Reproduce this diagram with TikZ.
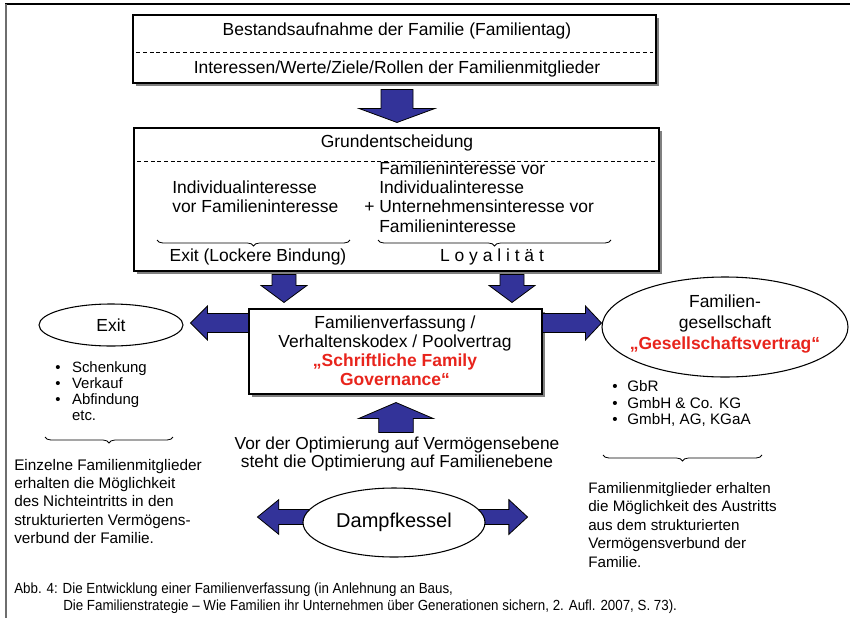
\documentclass[tikz,border=0pt]{standalone}
\usepackage{fontspec}
\setmainfont{Liberation Sans}
\newfontfamily\capfont[FakeStretch=0.91]{Liberation Sans}
\usetikzlibrary{calc,shadows,shapes.geometric,decorations.pathreplacing,backgrounds}
\definecolor{arrowblue}{RGB}{51,51,153}
\definecolor{govred}{RGB}{232,36,28}
\definecolor{shadowgray}{RGB}{128,128,128}
\definecolor{framegray}{RGB}{110,110,110}
\newcommand\pxu{0.75pt}
% block arrow: #1 start, #2 tip, #3 half shaft width, #4 half head width, #5 head length
\newcommand\blockarrow[5]{%
  \coordinate (ba-head) at ($(#2)!#5!(#1)$);
  \filldraw[blockarrow]
    ($(#1)!#3!90:(#2)$) -- ($(ba-head)!#3!90:(#2)$) -- ($(ba-head)!#4!90:(#2)$)
    -- (#2) -- ($(ba-head)!#4!-90:(#2)$) -- ($(ba-head)!#3!-90:(#2)$)
    -- ($(#1)!#3!-90:(#2)$) -- cycle;}
\begin{document}
\begin{tikzpicture}[x=0.75pt,y=-0.75pt,
  box/.style={draw=black, line width=0.8pt, fill=white, inner sep=0,
    drop shadow={shadow xshift=2.4pt, shadow yshift=-2.4pt, fill=shadowgray, opacity=1}},
  oval/.style={ellipse, draw=black, line width=0.8pt, fill=white, inner sep=0, align=center},
  maintext/.style={font=\fontsize{13.1}{14.6}\selectfont, align=center, inner sep=0},
  listtext/.style={font=\fontsize{11.2}{12}\selectfont, align=left, inner sep=0, anchor=west},
  paratext/.style={font=\fontsize{11.5}{13.8}\selectfont, align=left, inner sep=0, anchor=west},
  captext/.style={font=\capfont\fontsize{11}{12.75}\selectfont, align=left, inner sep=0, anchor=west},
  blockarrow/.style={fill=arrowblue, draw=black, line width=0.6pt, line join=miter},
  dashline/.style={line width=0.6pt, dash pattern=on 3pt off 2pt},
  ubrace/.style={decorate, decoration={brace, mirror, amplitude=4.5pt}, line width=0.6pt},
]
\useasboundingbox (0,0) rectangle (850,618);
% frame
\draw[black, line width=1.1pt] (5,4) -- (850,4);
\draw[framegray, line width=1.8pt] (6,4) -- (6,618);

% inventory of the family
\node[box, minimum width=523*\pxu, minimum height=68*\pxu] (famtag) at (394.5,49) {};
\node[maintext] (famtag-a) at (397,31) {Bestandsaufnahme der Familie (Familientag)};
\node[maintext] (famtag-b) at (397,69) {Interessen/Werte/Ziele/Rollen der Familienmitglieder};
\draw[dashline] ($(famtag.west)+(4,3)$) -- ($(famtag.east)+(-4,3)$);

% basic decision
\node[box, minimum width=525*\pxu, minimum height=143*\pxu] (grund) at (396.5,199.5) {};
\node[maintext] (grund-a) at (397,143) {Grundentscheidung};
\draw[dashline] ($(grund.west)+(4,-38.5)$) -- ($(grund.east)+(-4,-38.5)$);
\node[maintext, align=left, anchor=west] (grund-l) at (172,197)
  {Individualinteresse\\vor Familieninteresse};
\node[maintext, align=left, anchor=west] (grund-r) at (364,197)
  {\hphantom{+\ }Familieninteresse vor\\\hphantom{+\ }Individualinteresse\\+ Unternehmensinteresse vor\\\hphantom{+\ }Familieninteresse};
\draw[ubrace] (157,240) -- (350,240);
\draw[ubrace] (378,240) -- (611,240);
\node[maintext] (grund-exit) at (258,257) {Exit (Lockere Bindung)};
\node[maintext] (grund-loy) at (492,257) {L o y a l i t ä t};

% family constitution
\node[box, minimum width=293*\pxu, minimum height=85*\pxu] (verf) at (395.5,351.5) {};
\node[maintext, font=\fontsize{13.1}{14.25}\selectfont] (verf-t) at (395,351)
  {Familienverfassung /\\Verhaltenskodex / Poolvertrag\\
   {\color{govred}\bfseries „Schriftliche Family}\\{\color{govred}\bfseries Governance“}};

% exit
\node[oval, font=\fontsize{13.1}{14.6}\selectfont, minimum width=144*\pxu, minimum height=42*\pxu] (exit) at (111,325) {Exit};
\node[listtext] (exit-list) at (55,391)
  {\makebox[12.6pt][l]{•}Schenkung\\\makebox[12.6pt][l]{•}Verkauf\\\makebox[12.6pt][l]{•}Abfindung\\\makebox[12.6pt][l]{}etc.};
\draw[ubrace] (45,437) -- (173,437);
\node[paratext] (exit-text) at (14,501.5)
  {Einzelne Familienmitglieder\\erhalten die Möglichkeit\\des Nichteintritts in den\\strukturierten Vermögens-\\verbund der Familie.};

% family company
\node[oval, minimum width=246*\pxu, minimum height=100*\pxu] (fgs) at (725,327) {};
\node[maintext, font=\fontsize{13.1}{15.9}\selectfont] (fgs-t) at (725,324)
  {Familien-\\gesellschaft\\{\color{govred}\bfseries „Gesellschaftsvertrag“}};
\node[listtext, font=\fontsize{11.4}{12.4}\selectfont] (fgs-list) at (612,403.5)
  {\makebox[11.3pt][l]{•}GbR\\\makebox[11.3pt][l]{•}GmbH \& Co. KG\\\makebox[11.3pt][l]{•}GmbH, AG, KGaA};
\draw[ubrace] (603,455) -- (762,455);
\node[paratext, font=\fontsize{11.4}{13.9}\selectfont] (fgs-text) at (588,525)
  {Familienmitglieder erhalten\\die Möglichkeit des Austritts\\aus dem strukturierten\\Vermögensverbund der\\Familie.};

% steam boiler
\node[maintext, font=\fontsize{13}{13.5}\selectfont] (optim) at (397,454)
  {Vor der Optimierung auf Vermögensebene\\steht die Optimierung auf Familienebene};
\node[oval, font=\fontsize{15}{16}\selectfont, minimum width=182*\pxu, minimum height=69*\pxu] (dampf) at (394,522.5) {Dampfkessel};

% arrows
\coordinate (a1s) at ($(famtag.south)+(2.5,6)$);
\coordinate (a1e) at ($(grund.north)+(0.5,-5)$);
\blockarrow{a1s}{a1e}{12pt}{28.5pt}{10.5pt}
\coordinate (a2s) at ($(grund.south)+(-112.5,3)$);
\coordinate (a2e) at ($(verf.north)+(-111.5,-6)$);
\blockarrow{a2s}{a2e}{9pt}{17.25pt}{12.75pt}
\coordinate (a3s) at ($(grund.south)+(115.5,3)$);
\coordinate (a3e) at ($(verf.north)+(116.5,-6)$);
\blockarrow{a3s}{a3e}{9pt}{17.25pt}{12.75pt}
\coordinate (a4s) at ($(verf.west)+(0,-28.5)$);
\coordinate (a4e) at ($(exit.east)+(7,-2)$);
\blockarrow{a4s}{a4e}{7.1pt}{12.75pt}{12.75pt}
\coordinate (a5s) at ($(verf.east)+(0,-28.5)$);
\coordinate (a5e) at ($(fgs.west)+(0,-4)$);
\blockarrow{a5s}{a5e}{7.1pt}{12.75pt}{12pt}
\coordinate (a6s) at ($(verf.south)+(0.5,38)$);
\coordinate (a6e) at ($(verf.south)+(0.5,8)$);
\blockarrow{a6s}{a6e}{13pt}{28pt}{12pt}
\begin{pgfonlayer}{background}
\coordinate (a7s) at ($(dampf.center)+(-60,-5.5)$);
\coordinate (a7e) at ($(dampf.west)+(-45,-5.5)$);
\blockarrow{a7s}{a7e}{5.6pt}{13pt}{16pt}
\coordinate (a8s) at ($(dampf.center)+(60,-5.5)$);
\coordinate (a8e) at ($(dampf.east)+(42,-5.5)$);
\blockarrow{a8s}{a8e}{5.6pt}{13pt}{14pt}
\end{pgfonlayer}

% caption
\node[captext] (cap1) at (14,590) {Abb. 4: Die Entwicklung einer Familienverfassung (in Anlehnung an Baus,};
\node[captext] (cap2) at (63,607) {Die Familienstrategie – Wie Familien ihr Unternehmen über Generationen sichern, 2. Aufl. 2007, S. 73).};
\end{tikzpicture}
\end{document}
